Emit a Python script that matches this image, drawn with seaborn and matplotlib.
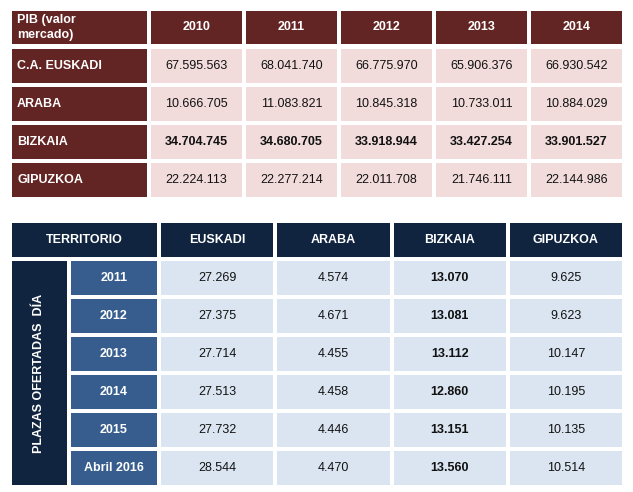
import numpy as np
import matplotlib
matplotlib.use("Agg")
import matplotlib.pyplot as plt
import seaborn as sns
from matplotlib.colors import ListedColormap

sns.set_theme(style="white")
plt.rcParams['font.family'] = ['Liberation Sans', 'DejaVu Sans']

# --- PIB table data ---
pib_title = "PIB (valor\nmercado)"
pib_years = ["2010", "2011", "2012", "2013", "2014"]
pib_regions = ["C.A. EUSKADI", "ARABA", "BIZKAIA", "GIPUZKOA"]
pib_euskadi = [67595563, 68041740, 66775970, 65906376, 66930542]
pib_araba = [10666705, 11083821, 10845318, 10733011, 10884029]
pib_bizkaia = [34704745, 34680705, 33918944, 33427254, 33901527]
pib_gipuzkoa = [22224113, 22277214, 22011708, 21746111, 22144986]

# --- Plazas table data ---
plazas_title = "TERRITORIO"
plazas_side = "PLAZAS OFERTADAS  DÍA"
plazas_regions = ["EUSKADI", "ARABA", "BIZKAIA", "GIPUZKOA"]
plazas_periods = ["2011", "2012", "2013", "2014", "2015", "Abril 2016"]
plazas_euskadi = [27269, 27375, 27714, 27513, 27732, 28544]
plazas_araba = [4574, 4671, 4455, 4458, 4446, 4470]
plazas_bizkaia = [13070, 13081, 13112, 12860, 13151, 13560]
plazas_gipuzkoa = [9625, 9623, 10147, 10195, 10135, 10514]

W, H = 633, 492
GAP_LW = 4 * 72 / 100  # 4 px white gap between cells

MAROON = "#632523"
PINK = "#F2DCDB"
NAVY = "#10243F"
STEEL = "#365D8E"
LIGHT_BLUE = "#DBE5F1"

fig = plt.figure(figsize=(W / 100, H / 100), dpi=100)


def fmt(v):
    return f"{v:,}".replace(",", ".")


def block(x0, y0, x1, y1, labels, color, tcolor, weight="bold", data=None):
    # cell block drawn as a single-colour heatmap, padded by half a gap
    ax = fig.add_axes([(x0 - 2) / W, 1 - (y1 + 2) / H, (x1 - x0 + 4) / W, (y1 - y0 + 4) / H])
    labels = np.array(labels, dtype=object)
    if data is None:
        data = np.zeros(labels.shape)
    sns.heatmap(np.asarray(data, dtype=float), annot=labels, fmt="", cmap=ListedColormap([color]),
                vmin=0, vmax=1, cbar=False, linewidths=GAP_LW, linecolor="white",
                xticklabels=False, yticklabels=False, ax=ax,
                annot_kws=dict(color=tcolor, fontsize=9, fontweight=weight))
    return ax


def left_align(ax, width_px, pad_px=5):
    for t in ax.texts:
        t.set_ha("left")
        t.set_x(t.get_position()[0] - 0.5 + (pad_px + 2) / width_px)


# ---------- PIB table ----------
ax = block(12, 11, 147, 44, [[pib_title]], MAROON, "white")
left_align(ax, 139)
for t in ax.texts:
    t.set_linespacing(1.4)

block(151, 11, 622, 44, [pib_years], MAROON, "white")
ax = block(12, 49, 147, 197, [[r] for r in pib_regions], MAROON, "white")
left_align(ax, 139)

pib_vals = np.array([pib_euskadi, pib_araba, pib_bizkaia, pib_gipuzkoa])
ax = block(151, 49, 622, 197, [[fmt(v) for v in row] for row in pib_vals], PINK, "#111111",
           weight="normal", data=pib_vals)
ncol = len(pib_years)
for i, t in enumerate(ax.texts):
    if pib_regions[i // ncol] == "BIZKAIA":
        t.set_fontweight("bold")

# ---------- Plazas table ----------
block(12, 223, 157, 257, [[plazas_title]], NAVY, "white")
block(161, 223, 622, 257, [plazas_regions], NAVY, "white")
ax = block(12, 261, 67, 485, [[plazas_side]], NAVY, "white")
for t in ax.texts:
    t.set_rotation(90)
block(71, 261, 157, 485, [[p] for p in plazas_periods], STEEL, "white")

plazas_vals = np.array([plazas_euskadi, plazas_araba, plazas_bizkaia, plazas_gipuzkoa]).T
ax = block(161, 261, 622, 485, [[fmt(v) for v in row] for row in plazas_vals], LIGHT_BLUE, "#111111",
           weight="normal", data=plazas_vals)
ncol = len(plazas_regions)
for i, t in enumerate(ax.texts):
    if plazas_regions[i % ncol] == "BIZKAIA":
        t.set_fontweight("bold")

fig.savefig("out.png", dpi=100)
plt.close(fig)
